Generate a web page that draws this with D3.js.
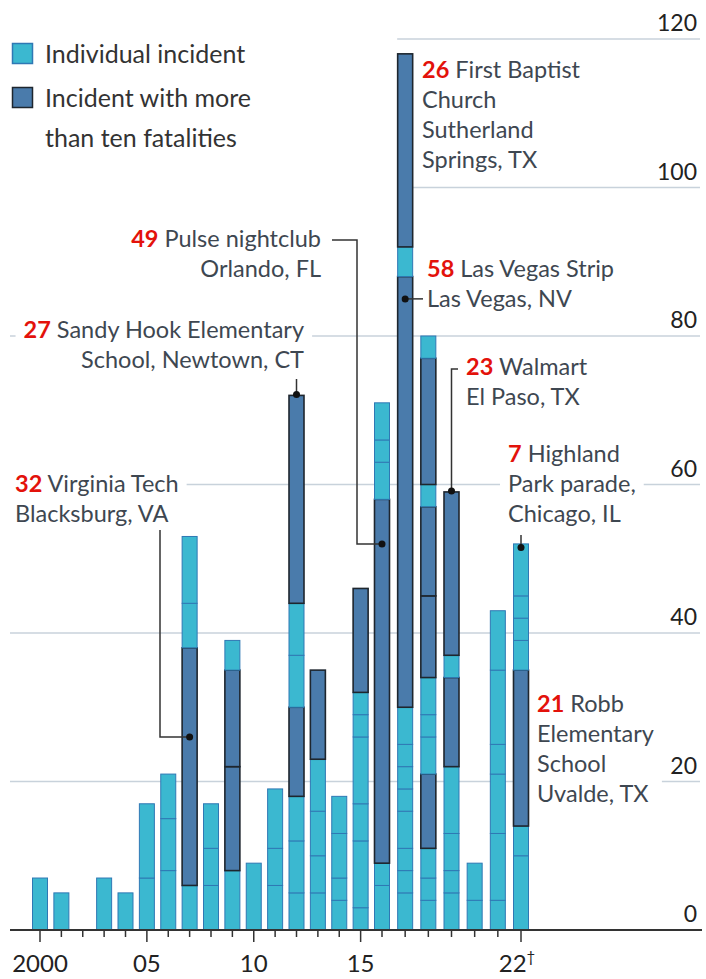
<!DOCTYPE html>
<html>
<head>
<meta charset="utf-8">
<script src="https://cdn.jsdelivr.net/npm/d3@7"></script>
<style>
  body { margin: 0; background: #fff; }
  text { font-family: Lato, "Open Sans", sans-serif; }
</style>
</head>
<body>
<script>
// incidents per year, bottom to top; i = individual, m = more than ten fatalities
const years = [2000, 2001, 2002, 2003, 2004, 2005, 2006, 2007, 2008, 2009, 2010, 2011,
               2012, 2013, 2014, 2015, 2016, 2017, 2018, 2019, 2020, 2021, 2022];
const deaths = [
  [7], [5], [], [7], [5], [7, 10], [8, 7, 6], [6, 32, 6, 9], [6, 5, 6], [8, 14, 13, 4], [9],
  [6, 5, 8], [5, 7, 6, 12, 7, 7, 28], [5, 5, 6, 7, 12], [4, 3, 6, 5], [3, 9, 5, 9, 3, 3, 14],
  [6, 3, 49, 5, 3, 5], [5, 3, 3, 5, 3, 3, 3, 5, 58, 4, 26], [4, 3, 4, 10, 5, 3, 5, 11, 12, 3, 17, 3],
  [5, 3, 5, 9, 12, 3, 22], [4, 5], [4, 9, 8, 4, 10, 8], [10, 4, 21, 4, 3, 3, 7]
];
const kinds = ["i", "i", "", "i", "i", "ii", "iii", "imii", "iii", "immi", "i",
               "iii", "iiimiim", "iiiim", "iiii", "iiiiiim",
               "iimiii", "iiiiiiiimim", "iiimiiimmimi",
               "iiiimim", "ii", "iiiiii", "iimiiii"];
const yTicks = [0, 20, 40, 60, 80, 100, 120];
const xLabels = { 2000: "2000", 2005: "05", 2010: "10", 2015: "15", 2022: "22" };
const legendLabels = [["Individual incident"], ["Incident with more", "than ten fatalities"]];
// annotation: year, where the pointer hits the bar, number, text lines
const noteYears = [2017, 2017, 2016, 2012, 2019, 2022, 2007, 2022];
const noteAt = [null, 85, 52, 72, 59, 51.5, 26, null];
const noteNums = ["26", "58", "49", "27", "23", "7", "32", "21"];
const noteLines = [
  ["First Baptist", "Church", "Sutherland", "Springs, TX"],
  ["Las Vegas Strip", "Las Vegas, NV"],
  ["Pulse nightclub", "Orlando, FL"],
  ["Sandy Hook Elementary", "School, Newtown, CT"],
  ["Walmart", "El Paso, TX"],
  ["Highland", "Park parade,", "Chicago, IL"],
  ["Virginia Tech", "Blacksburg, VA"],
  ["Robb", "Elementary", "School", "Uvalde, TX"]
];

const width = 706, height = 979;
const cyan = "#3bb8d0", cyanEdge = "#2f78b4", navy = "#4a7bab", navyEdge = "#1e262e";
const red = "#e3120b", grey = "#3e4751";

const svg = d3.select("body").append("svg")
  .attr("width", width).attr("height", height);

const x = d3.scaleLinear().domain([2000, 2016, 2022]).range([40, 382, 521]);
const y = d3.scaleLinear().domain([0, 120]).range([930, 39]);
const barW = 16;

// gridlines
svg.append("g").selectAll("line").data(yTicks.slice(1)).enter().append("line")
  .attr("x1", 10).attr("x2", 700)
  .attr("y1", d => y(d)).attr("y2", d => y(d))
  .attr("stroke", "#c8d2db").attr("stroke-width", 1.5);

const masks = svg.append("g");
masks.append("rect").attr("x", 0).attr("y", 0).attr("width", x(2017) - barW / 2).attr("height", 205).attr("fill", "#fff");

// stacked segments
const segs = [];
years.forEach(function(yr, i) {
  let acc = 0;
  deaths[i].forEach(function(v, j) {
    segs.push({ year: yr, y0: acc, y1: acc + v, kind: kinds[i][j] });
    acc += v;
  });
});

svg.append("g").selectAll("rect").data(segs).enter().append("rect")
  .attr("x", d => x(d.year) - barW / 2 + 0.5)
  .attr("width", barW - 1)
  .attr("y", d => y(d.y1))
  .attr("height", d => y(d.y0) - y(d.y1))
  .attr("fill", d => d.kind == "m" ? navy : cyan)
  .attr("stroke", d => d.kind == "m" ? navyEdge : cyanEdge)
  .attr("stroke-width", d => d.kind == "m" ? 1.6 : 1);

// x axis
svg.append("line").attr("x1", 10).attr("x2", 702).attr("y1", y(0)).attr("y2", y(0))
  .attr("stroke", "#333").attr("stroke-width", 2);
svg.append("g").selectAll("line").data(years).enter().append("line")
  .attr("x1", d => x(d)).attr("x2", d => x(d))
  .attr("y1", y(0)).attr("y2", d => xLabels[d] ? y(0) + 12 : y(0) + 7)
  .attr("stroke", "#333").attr("stroke-width", 1.5);
const xl = svg.append("g").selectAll("text").data(years.filter(d => xLabels[d])).enter().append("text")
  .attr("x", d => x(d) - (d == 2022 ? 4 : 0)).attr("y", 972)
  .attr("text-anchor", "middle").attr("font-size", 24).attr("fill", "#222")
  .text(d => xLabels[d]);
xl.filter(d => d == 2022).append("tspan").attr("dy", -10).attr("font-size", 15).text("\u2020");

// y labels
svg.append("g").selectAll("text").data(yTicks).enter().append("text")
  .attr("x", 697).attr("y", d => y(d) - 8)
  .attr("text-anchor", "end").attr("font-size", 23).attr("fill", "#222")
  .text(d => d);

// legend
const lg = svg.append("g");
legendLabels.forEach(function(lines, i) {
  lg.append("rect").attr("x", 12.5).attr("y", 43.5 + i * 44).attr("width", 20).attr("height", 20)
    .attr("fill", i == 0 ? cyan : navy).attr("stroke", i == 0 ? cyanEdge : navyEdge).attr("stroke-width", 1.5);
  lines.forEach(function(t, k) {
    lg.append("text").attr("x", 45).attr("y", 63 + i * 44 + k * 40)
      .attr("font-size", 25).attr("fill", "#333").text(t);
  });
});

// annotation layout: text anchor point, alignment, pointer path
const noteLayout = [
  { tx: 422, ty: 78, anchor: "start", path: null },
  { tx: 427, ty: 277, anchor: "start", path: i => [[423, y(noteAt[i])], [x(2017), y(noteAt[i])]] },
  { tx: 321, ty: 247, anchor: "end", path: i => [[332, 240], [357, 240], [357, y(noteAt[i])], [x(2016), y(noteAt[i])]] },
  { tx: 304, ty: 338, anchor: "end", path: i => [[x(2012), 379], [x(2012), y(noteAt[i]) - 1]] },
  { tx: 466, ty: 375, anchor: "start", path: i => [[458, 369], [x(2019), 369], [x(2019), y(noteAt[i]) - 1]] },
  { tx: 508, ty: 462, anchor: "start", path: i => [[x(2022), 535], [x(2022), y(noteAt[i])]] },
  { tx: 15, ty: 492, anchor: "start", path: i => [[160, 530], [160, y(noteAt[i])], [x(2007), y(noteAt[i])]] },
  { tx: 537, ty: 712, anchor: "start", path: null }
];

const line = d3.line();
const notes = svg.append("g");
noteLines.forEach(function(lines, i) {
  const L = noteLayout[i];
  if (L.path) {
    const pts = L.path(i);
    notes.append("path").attr("d", line(pts)).attr("fill", "none")
      .attr("stroke", "#333").attr("stroke-width", 1.5);
    const end = pts[pts.length - 1];
    notes.append("circle").attr("cx", end[0]).attr("cy", end[1]).attr("r", 3.5).attr("fill", "#111");
  }
  const g = notes.append("g");
  lines.forEach(function(t, k) {
    const tx = g.append("text").attr("x", L.tx).attr("y", L.ty + k * 30)
      .attr("text-anchor", L.anchor).attr("font-size", 23.5).attr("fill", grey);
    if (k == 0) {
      tx.append("tspan").attr("fill", red).attr("font-weight", "bold").text(noteNums[i]);
      tx.append("tspan").text(" " + t);
    } else {
      tx.text(t);
    }
  });
  const b = g.node().getBBox();
  masks.append("rect").attr("x", b.x - 8).attr("y", b.y - 2)
    .attr("width", b.width + 16).attr("height", b.height + 4).attr("fill", "#fff");
});
</script>
</body>
</html>
